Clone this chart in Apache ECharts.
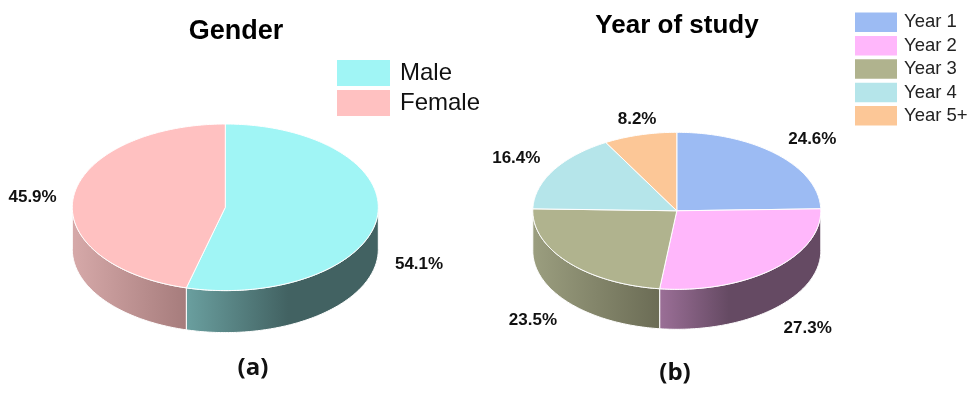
<!DOCTYPE html>
<html><head><meta charset="utf-8">
<style>html,body{margin:0;padding:0;background:#fff}#c{width:979px;height:405px}</style>
<script src="https://cdn.jsdelivr.net/npm/echarts@6/dist/echarts.min.js"></script>
</head><body><div id="c"></div>
<script>
// ---- data ----
const genderNames = ['Male', 'Female'];
const genderValues = [54.1, 45.9];
const yearNames = ['Year 1', 'Year 2', 'Year 3', 'Year 4', 'Year 5+'];
const yearValues = [24.6, 27.3, 23.5, 16.4, 8.2];

// ---- style and layout ----
const genderColors = ['#a0f5f5', '#ffc1c1'];
const yearColors = ['#9cbbf3', '#ffb7fb', '#b0b38e', '#b5e5ea', '#fcc797'];
const genderWalls = [
  [[0, '#6a9f9f'], [0.53, '#426262'], [1, '#426262']],
  [[0, '#d6a9a9'], [1, '#a67c7c']]
];
const yearWalls = [
  [[0, '#5f7596'], [1, '#5f7596']],
  [[0, '#9b6f97'], [0.43, '#654a63'], [1, '#654a63']],
  [[0, '#9b9e7f'], [1, '#6b6c55']],
  [[0, '#6f8c90'], [1, '#6f8c90']],
  [[0, '#9c7b5e'], [1, '#9c7b5e']]
];
const genderPie = { cx: 225.3, cy: 207.3, rx: 153, ry: 83.3, depth: 42 };
const yearPie = { cx: 676.8, cy: 210.8, rx: 144, ry: 78.5, depth: 40 };
const genderLabelOffsets = [[42, 46], [-41, 1]];
const yearLabelOffsets = [[35, -15], [34, 59], [-35, 58], [-37, -12], [-3, -16]];

const RAD = Math.PI / 180;
function pt(p, deg, dy) {
  return [p.cx + p.rx * Math.sin(deg * RAD), p.cy - p.ry * Math.cos(deg * RAD) + (dy || 0)];
}
function arc(p, a, b, dy) {
  const out = [], n = Math.max(2, Math.ceil(Math.abs(b - a)));
  for (let i = 0; i <= n; i++) out.push(pt(p, a + (b - a) * i / n, dy));
  return out;
}

function pieSeries(names, values, colors, walls, p, offsets) {
  const total = values.reduce((s, v) => s + v, 0);
  let acc = 0;
  return names.map((name, i) => {
    const startValue = acc;
    acc += values[i];
    return {
      type: 'custom',
      name,
      coordinateSystem: 'none',
      itemStyle: { color: colors[i] },
      silent: true,
      data: [values[i]],
      renderItem(params, api) {
        const v = api.value(0);
        const a = startValue / total * 360, b = a + v / total * 360;
        const children = [];
        const wa = Math.max(a, 90), wb = Math.min(b, 270);
        if (wb > wa) {
          const top = arc(p, wa, wb, 0), bottom = arc(p, wb, wa, p.depth);
          const xs = top.map(q => q[0]);
          // wall stops run left to right across the wall's horizontal extent
          children.push({
            type: 'polygon',
            shape: { points: top.concat(bottom) },
            style: {
              fill: new echarts.graphic.LinearGradient(Math.min(...xs), 0, Math.max(...xs), 0,
                walls[i].map(s => ({ offset: s[0], color: s[1] })), true),
              stroke: '#ffffff', lineWidth: 1
            }
          });
        }
        children.push({
          type: 'polygon',
          shape: { points: [[p.cx, p.cy]].concat(arc(p, a, b, 0)) },
          style: { fill: colors[i], stroke: '#ffffff', lineWidth: 1, lineJoin: 'round' }
        });
        const m = pt(p, (a + b) / 2, 0);
        children.push({
          type: 'text',
          style: {
            x: m[0] + offsets[i][0], y: m[1] + offsets[i][1],
            text: v.toFixed(1) + '%',
            align: 'center', verticalAlign: 'middle',
            font: 'bold 17px "Liberation Sans", Arial, sans-serif', fill: '#111111'
          }
        });
        return { type: 'group', children };
      }
    };
  });
}

const sans = '"Liberation Sans", Arial, sans-serif';
const chart = echarts.init(document.getElementById('c'), null, { renderer: 'canvas' });
chart.setOption({
  animation: false,
  backgroundColor: '#ffffff',
  title: [
    { text: 'Gender', left: 236, top: 18, textAlign: 'center', padding: 0,
      textStyle: { fontFamily: sans, fontSize: 27, fontWeight: 'bold', color: '#000' } },
    { text: 'Year of study', left: 677, top: 13, textAlign: 'center', padding: 0,
      textStyle: { fontFamily: sans, fontSize: 26, fontWeight: 'bold', color: '#000' } },
    { text: '(a)', left: 253, top: 356, textAlign: 'center', padding: 0,
      textStyle: { fontFamily: '"Open Sans", sans-serif', fontSize: 24, fontWeight: 'bold', color: '#111' } },
    { text: '(b)', left: 675, top: 361, textAlign: 'center', padding: 0,
      textStyle: { fontFamily: '"Open Sans", sans-serif', fontSize: 24, fontWeight: 'bold', color: '#111' } }
  ],
  legend: [
    { data: genderNames, left: 337, top: 60, orient: 'vertical', padding: 0, icon: 'rect',
      itemWidth: 53, itemHeight: 26, itemGap: 4, selectedMode: false,
      textStyle: { fontFamily: sans, fontSize: 24, color: '#111', padding: [2, 0, 0, 5] } },
    { data: yearNames, left: 855, top: 12.5, orient: 'vertical', padding: 0, icon: 'rect',
      itemWidth: 42, itemHeight: 19.5, itemGap: 3.9, selectedMode: false,
      textStyle: { fontFamily: sans, fontSize: 18.5, color: '#222', padding: [3, 0, 0, 2] } }
  ],
  series: pieSeries(genderNames, genderValues, genderColors, genderWalls, genderPie, genderLabelOffsets)
    .concat(pieSeries(yearNames, yearValues, yearColors, yearWalls, yearPie, yearLabelOffsets))
});
</script></body></html>
